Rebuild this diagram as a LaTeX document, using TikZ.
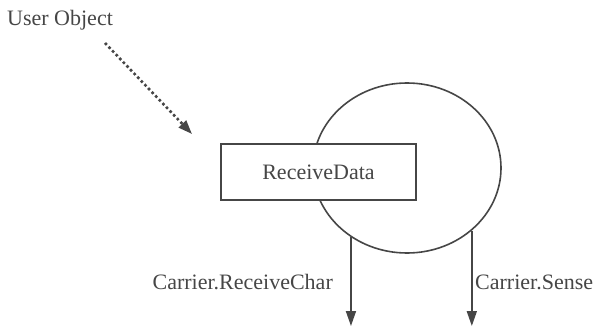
\documentclass[tikz,border=0pt]{standalone}
\usepackage{fontspec}
\setmainfont{Liberation Serif}
\usetikzlibrary{shapes.geometric,arrows.meta}
\definecolor{ink}{RGB}{70,70,70}
\begin{document}
\begin{tikzpicture}[x=1pt,y=-1pt,
  every node/.style={font=\fontsize{22}{24}\selectfont, text=ink},
  lbl/.style={inner sep=0pt},
  outline/.style={draw=ink, line width=1.6pt},
  flow/.style={draw=ink, line width=1.7pt, -{Triangle[length=15pt,width=10pt]}},
  dotarrow/.style={draw=ink, line width=2.6pt, dash pattern=on 2.6pt off 2.6pt, -{Triangle[length=14pt,width=10pt]}}]
\useasboundingbox (0,0) rectangle (605,326);
\node[outline, ellipse, minimum width=188pt, minimum height=170pt, inner sep=0pt] (ell) at (407,168) {};
\node[outline, fill=white, minimum width=195pt, minimum height=56pt, inner sep=0pt] (box) at (318.5,172) {ReceiveData};
\node[lbl, anchor=west] (user) at (7,20) {User Object};
\coordinate (uo) at (105,43);
\coordinate (tip) at (192,134);
\draw[dotarrow] (uo) -- (tip);
\coordinate (bot) at (0,326);
\draw[flow] (ell.231.2) -- (ell.231.2 |- bot);
\draw[flow] (ell.316.9) -- (ell.316.9 |- bot);
\node[lbl, anchor=east] (rc) at (333,282) {Carrier.ReceiveChar};
\node[lbl, anchor=west] (cs) at (475,282) {Carrier.Sense};
\end{tikzpicture}
\end{document}
